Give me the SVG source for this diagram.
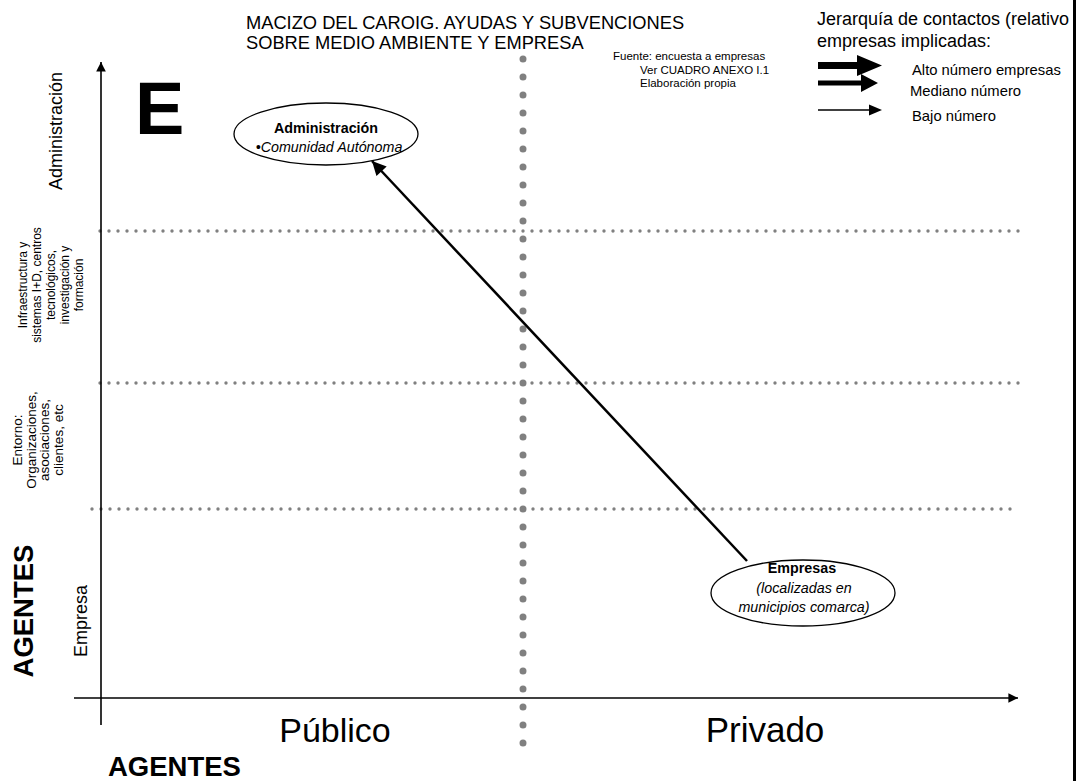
<svg xmlns="http://www.w3.org/2000/svg" width="1078" height="781" viewBox="0 0 1078 781">
<defs>
<style>
text{font-family:"Liberation Sans",Arial,sans-serif;fill:#000}
.dotv{stroke:#808080;stroke-width:7;stroke-linecap:round;stroke-dasharray:0 18;fill:none}
.doth{stroke:#808080;stroke-width:3.4;stroke-linecap:round;stroke-dasharray:0 9;fill:none}
.axis{stroke:#000;stroke-width:1.6;fill:none}
.node{fill:#fff;stroke:#000;stroke-width:1.3}
.mid{text-anchor:middle}
.ntext{font-size:14.3px;text-anchor:middle}
</style>
<marker id="ah" viewBox="0 0 10 10" refX="10" refY="5" markerWidth="7" markerHeight="5.6" orient="auto" markerUnits="strokeWidth"><path d="M0,0 L10,5 L0,10 z" fill="#000"/></marker>
<marker id="ahs" viewBox="0 0 10 10" refX="10" refY="5" markerWidth="7" markerHeight="6" orient="auto" markerUnits="strokeWidth"><path d="M0,0 L10,5 L0,10 z" fill="#000"/></marker>
</defs>
<rect width="1078" height="781" fill="#fff"/>
<g id="grid">
<line class="dotv" x1="523" y1="59" x2="523" y2="744"/>
<line class="doth" x1="100" y1="231" x2="1021" y2="231"/>
<line class="doth" x1="100" y1="383" x2="1021" y2="383"/>
<line class="doth" x1="92" y1="509" x2="1012" y2="509"/>
</g>
<g id="axes">
<line class="axis" x1="101" y1="725" x2="101" y2="62" marker-end="url(#ahs)"/>
<line class="axis" x1="74" y1="698" x2="1018" y2="698" marker-end="url(#ahs)"/>
</g>
<line x1="1074.5" y1="0" x2="1074.5" y2="781" stroke="#000" stroke-width="3"/>
<g id="titles">
<text x="246" y="29" style="font-size:18.3px">MACIZO DEL CAROIG. AYUDAS Y SUBVENCIONES</text>
<text x="246" y="49" style="font-size:18.3px">SOBRE MEDIO AMBIENTE Y EMPRESA</text>
<text x="613" y="60" style="font-size:11.5px">Fuente: encuesta a empresas</text>
<text x="640" y="74" style="font-size:11.5px">Ver CUADRO ANEXO I.1</text>
<text x="640" y="87" style="font-size:11.5px">Elaboración propia</text>
<text x="135" y="134" style="font-size:74px;font-weight:bold">E</text>
</g>
<g id="legend">
<text x="817" y="25" style="font-size:18px">Jerarquía de contactos (relativo</text>
<text x="817" y="47" style="font-size:18px">empresas implicadas:</text>
<path d="M818,62 H857 V55 L882,65.5 L857,76 V69 H818 z" fill="#000"/>
<path d="M818,80.5 H861 V74 L878,83 L861,92 V85.5 H818 z" fill="#000"/>
<line x1="818" y1="110" x2="871" y2="110" stroke="#000" stroke-width="1.6"/>
<path d="M869,104.5 L882,110 L869,115.5 z" fill="#000"/>
<text x="912" y="75" style="font-size:14.8px">Alto número empresas</text>
<text x="910" y="96" style="font-size:14.8px">Mediano número</text>
<text x="912" y="121" style="font-size:14.8px">Bajo número</text>
</g>
<g id="ylabels">
<text class="mid" style="font-size:18px" transform="translate(62,131) rotate(-90)">Administración</text>
<g transform="translate(0,285) rotate(-90)" style="font-size:12px">
<text class="mid" x="0" y="27">Infraestructura y</text>
<text class="mid" x="0" y="41">sistemas I+D, centros</text>
<text class="mid" x="0" y="55">tecnológicos,</text>
<text class="mid" x="0" y="69">investigación y</text>
<text class="mid" x="0" y="83">formación</text>
</g>
<g transform="translate(0,440) rotate(-90)" style="font-size:13.5px">
<text class="mid" x="0" y="22">Entorno:</text>
<text class="mid" x="0" y="36">Organizaciones,</text>
<text class="mid" x="0" y="49">asociaciones,</text>
<text class="mid" x="0" y="63">clientes, etc</text>
</g>
<text class="mid" style="font-size:18px" transform="translate(87,621) rotate(-90)">Empresa</text>
<text class="mid" style="font-size:27.5px;font-weight:bold" transform="translate(33,611) rotate(-90)">AGENTES</text>
</g>
<g id="xlabels">
<text class="mid" x="335" y="742" style="font-size:34px">Público</text>
<text class="mid" x="765" y="742" style="font-size:35px">Privado</text>
<text x="108" y="776" style="font-size:27.5px;font-weight:bold">AGENTES</text>
</g>
<g id="node-administracion">
<ellipse class="node" cx="326" cy="134" rx="92" ry="31"/>
<text class="ntext" x="326" y="133" style="font-weight:bold">Administración</text>
<text class="ntext" x="329" y="152" style="font-style:italic">•Comunidad Autónoma</text>
</g>
<g id="node-empresas">
<ellipse class="node" cx="803" cy="593" rx="92" ry="33"/>
<text class="ntext" x="802" y="573" style="font-weight:bold">Empresas</text>
<text class="ntext" x="804" y="593" style="font-style:italic">(localizadas en</text>
<text class="ntext" x="804" y="612" style="font-style:italic">municipios comarca)</text>
</g>
<g id="connectors">
<line x1="747" y1="561" x2="372" y2="161" stroke="#000" stroke-width="2.5" marker-end="url(#ah)"/>
</g>
</svg>
